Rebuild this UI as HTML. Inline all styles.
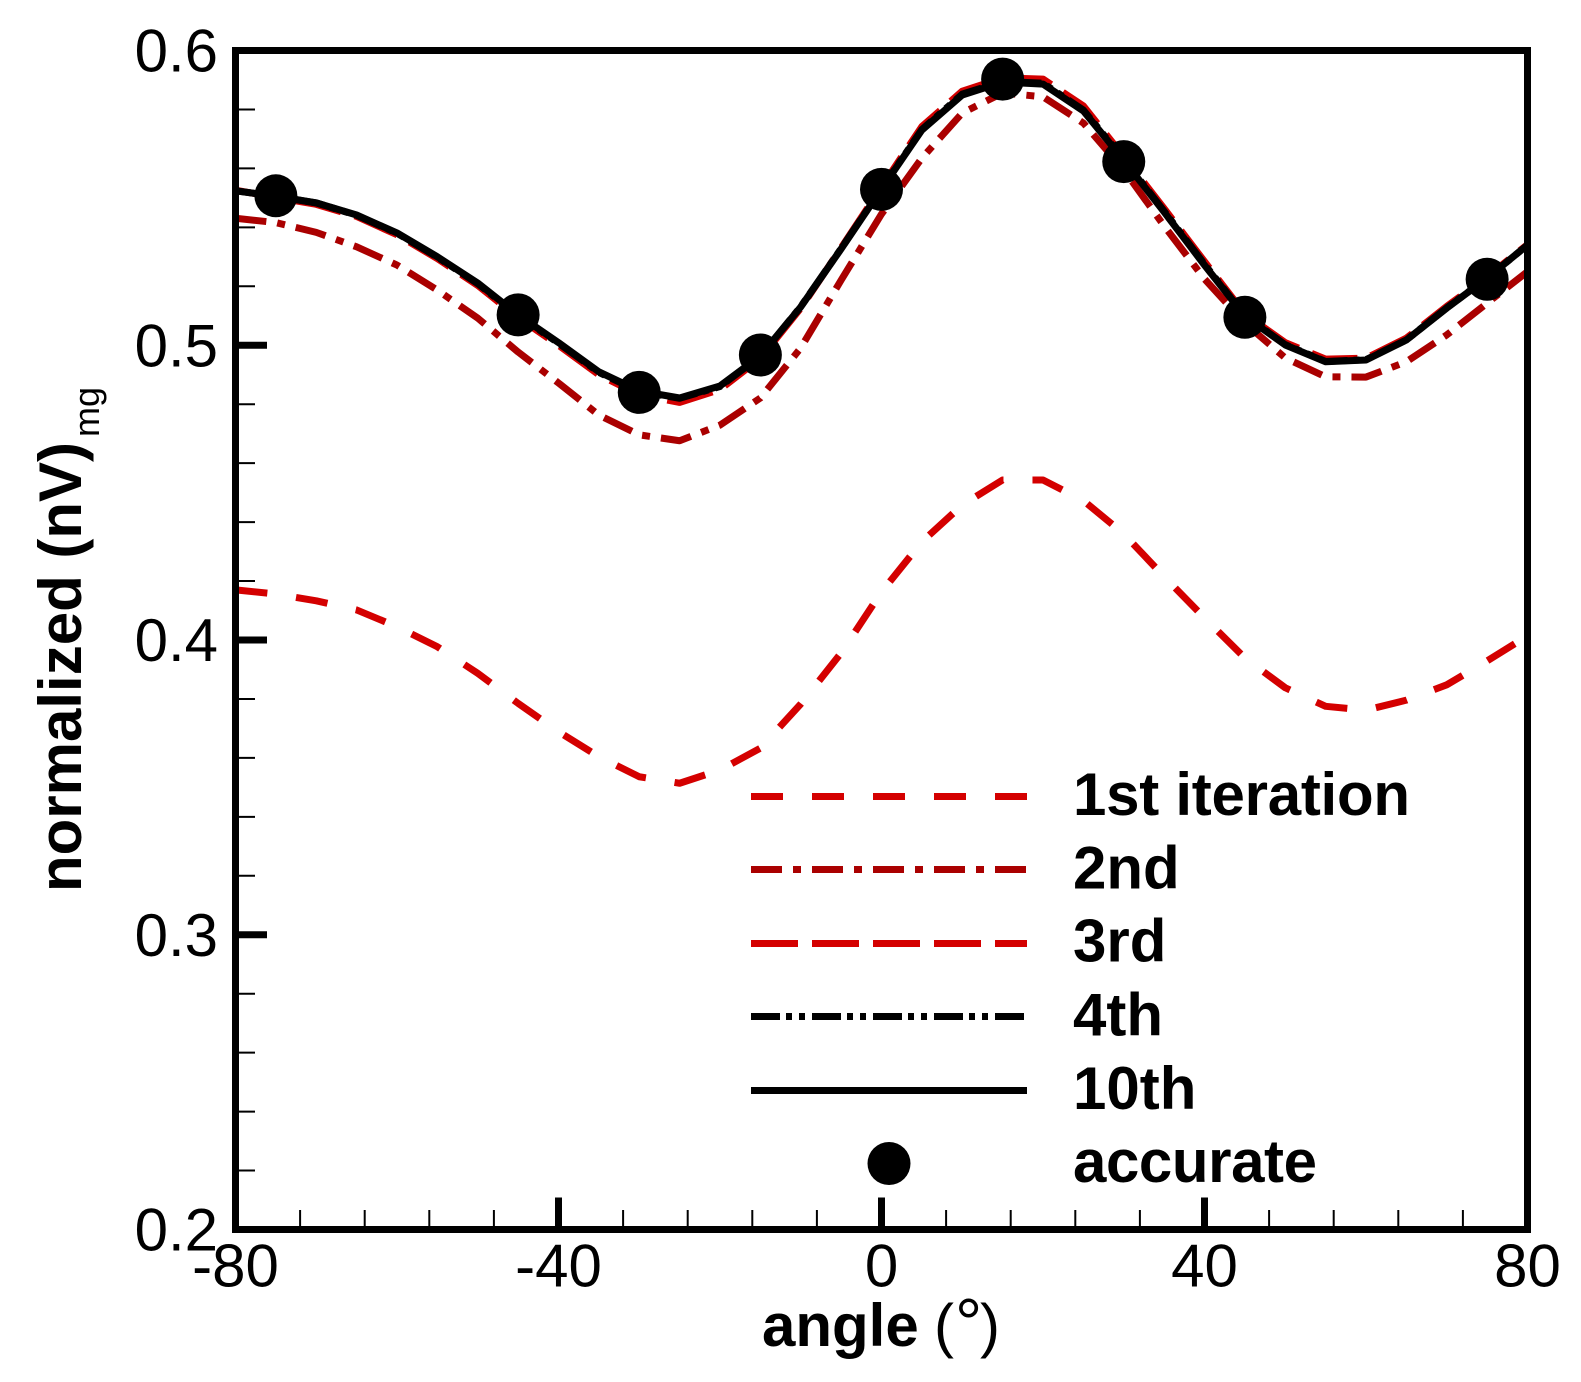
<!DOCTYPE html>
<html lang="en">
<head>
<meta charset="utf-8">
<title>normalized (nV)mg vs angle</title>
<style>
html,body{margin:0;padding:0;background:#fff;}
svg{display:block;font-family:"Liberation Sans",Arial,sans-serif;}
</style>
</head>
<body>
<svg id="chart" xmlns="http://www.w3.org/2000/svg" width="1581" height="1382" viewBox="0 0 1581 1382">
  <rect x="0" y="0" width="1581" height="1382" fill="#fff"/>
  <g id="series-layer"></g>
  <g id="marker-layer"></g>
  <g id="tick-layer"></g>
  <rect x="235.5" y="50.5" width="1292" height="1179" fill="none" stroke="#000" stroke-width="7"/>
  <g id="label-layer" font-size="60" fill="#000"></g>

  <text transform="translate(81,892) rotate(-90)" font-size="60" font-weight="700" fill="#000">normalized (nV)<tspan font-size="36" font-weight="400" dx="5" dy="18">mg</tspan></text>
  <text y="1346" font-size="60" fill="#000"><tspan x="762" font-weight="700">angle</tspan><tspan x="934" font-weight="400">(</tspan><tspan x="955" font-size="68" font-weight="400">°</tspan><tspan x="980" font-weight="400">)</tspan></text>

  <g font-size="60" font-weight="700" fill="#000">
    <g>
      <line x1="751" y1="796.5" x2="1027" y2="796.5" stroke="#d40000" stroke-width="7" stroke-dasharray="32 29"/>
      <text x="1073" y="815" textLength="337" lengthAdjust="spacing">1st iteration</text>
    </g>
    <g>
      <line x1="751" y1="869.5" x2="1027" y2="869.5" stroke="#aa0000" stroke-width="7" stroke-dasharray="31 11 8 11"/>
      <text x="1073" y="888.6">2nd</text>
    </g>
    <g>
      <line x1="751" y1="943.5" x2="1027" y2="943.5" stroke="#d40000" stroke-width="7" stroke-dasharray="47 14"/>
      <text x="1073" y="961.5">3rd</text>
    </g>
    <g>
      <line x1="751" y1="1016.5" x2="1024" y2="1016.5" stroke="#000" stroke-width="7" stroke-dasharray="29 6 6 7 6 7"/>
      <text x="1073" y="1035.5">4th</text>
    </g>
    <g>
      <line x1="751" y1="1090.5" x2="1027" y2="1090.5" stroke="#000" stroke-width="7"/>
      <text x="1073" y="1109">10th</text>
    </g>
    <g>
      <circle cx="889" cy="1163.5" r="21.5" fill="#000"/>
      <text x="1073" y="1182" textLength="244" lengthAdjust="spacing">accurate</text>
    </g>
  </g>
</svg>
<script>
const angles = [-80,-75,-70,-65,-60,-55,-50,-45,-40,-35,-30,-25,-20,-15,-10,-5,0,5,10,15,20,25,30,35,40,45,50,55,60,65,70,75,80];
const iter1st = [.4170,.4156,.4133,.4102,.4045,.3977,.3887,.3785,.3689,.3604,.3536,.3514,.3559,.3633,.3783,.3956,.4163,.4333,.4458,.4543,.4543,.4473,.4360,.4215,.4075,.3939,.3838,.3775,.3762,.3796,.3848,.3929,.4014];
const iter2nd = [.5431,.5416,.5383,.5334,.5272,.5187,.5092,.4977,.4872,.4763,.4696,.4676,.4729,.4821,.4991,.5221,.5445,.5635,.5788,.5856,.5843,.5754,.5595,.5405,.5225,.5075,.4957,.4893,.4892,.4944,.5035,.5143,.5250];
const iter3rd = [.5526,.5502,.5478,.5437,.5375,.5294,.5203,.5094,.5000,.4900,.4832,.4806,.4850,.4956,.5126,.5330,.5537,.5742,.5862,.5907,.5903,.5812,.5640,.5464,.5284,.5106,.5009,.4953,.4956,.5024,.5132,.5232,.5342];
const iter4th = [.5524,.5505,.5483,.5441,.5380,.5299,.5209,.5101,.5007,.4908,.4843,.4820,.4860,.4963,.5131,.5328,.5531,.5732,.5852,.5895,.5889,.5798,.5631,.5455,.5275,.5100,.5002,.4945,.4951,.5018,.5127,.5228,.5340];
const iter10th = [.5524,.5506,.5483,.5442,.5381,.5300,.5211,.5103,.5009,.4910,.4845,.4821,.4862,.4964,.5130,.5327,.5530,.5730,.5849,.5893,.5886,.5795,.5628,.5452,.5272,.5099,.5001,.4944,.4950,.5018,.5126,.5228,.5340];
const accurateAngles = [-75,-45,-30,-15,0,15,30,45,75];
const accurateValues = [.5507,.5103,.4840,.4967,.5529,.5903,.5623,.5095,.5224];
const xMajorTicks = [-80,-40,0,40,80];
const xMinorTicks = [-72,-64,-56,-48,-32,-24,-16,-8,8,16,24,32,48,56,64,72];
const yMajorTicks = [0.2,0.3,0.4,0.5,0.6];
const yMinorTicks = [0.22,0.24,0.26,0.28,0.32,0.34,0.36,0.38,0.42,0.44,0.46,0.48,0.52,0.54,0.56,0.58];
const xTickLabels = ["-80","-40","0","40","80"];
const yTickLabels = ["0.2","0.3","0.4","0.5","0.6"];

const NS = "http://www.w3.org/2000/svg";
const plot = {left:235.5, right:1527.5, top:50.5, bottom:1229.5, xMin:-80, xMax:80, yMin:0.2, yMax:0.6};
function xScale(a){ return plot.left + (a - plot.xMin) / (plot.xMax - plot.xMin) * (plot.right - plot.left); }
function yScale(v){ return plot.bottom - (v - plot.yMin) / (plot.yMax - plot.yMin) * (plot.bottom - plot.top); }
function make(tag, attrs, parent){
  const el = document.createElementNS(NS, tag);
  for (const k in attrs) el.setAttribute(k, attrs[k]);
  parent.appendChild(el);
  return el;
}

const seriesLayer = document.getElementById("series-layer");
function drawSeries(values, color, dash, name){
  const d = values.map((v,i) => (i ? "L" : "M") + xScale(angles[i]).toFixed(2) + " " + yScale(v).toFixed(2)).join(" ");
  const p = make("path", {d:d, fill:"none", stroke:color, "stroke-width":7, "stroke-linejoin":"round", "stroke-dasharray":dash}, seriesLayer);
  
  
}
drawSeries(iter1st, "#d40000", "32 29", "series-1st-iteration");
drawSeries(iter2nd, "#aa0000", "31 11 8 11", "series-2nd");
drawSeries(iter3rd, "#d40000", "47 14", "series-3rd");
drawSeries(iter4th, "#000", "29 6 6 7 6 7", "series-4th");
drawSeries(iter10th, "#000", "none", "series-10th");

const markerLayer = document.getElementById("marker-layer");
accurateAngles.forEach((a,i) => {
  const c = make("circle", {cx:xScale(a), cy:yScale(accurateValues[i]), r:21.5, fill:"#000"}, markerLayer);
  
  
});

const tickLayer = document.getElementById("tick-layer");
function xTick(a, len, w, name){
  const t = make("line", {x1:xScale(a), x2:xScale(a), y1:plot.bottom, y2:plot.bottom - len, stroke:"#000", "stroke-width":w}, tickLayer);
  
  
}
function yTick(v, len, w, name){
  const t = make("line", {x1:plot.left, x2:plot.left + len, y1:yScale(v), y2:yScale(v), stroke:"#000", "stroke-width":w}, tickLayer);
  
  
}
xMajorTicks.forEach(a => xTick(a, 32, 7, 'x-major-tick'));
xMinorTicks.forEach(a => xTick(a, 19.5, 2, 'x-minor-tick'));
yMajorTicks.forEach(v => yTick(v, 31.5, 7, 'y-major-tick'));
yMinorTicks.forEach(v => yTick(v, 19.5, 2, 'y-minor-tick'));

const labelLayer = document.getElementById("label-layer");
xMajorTicks.forEach((a,i) => {
  const t = make("text", {x:xScale(a), y:1286.5, "text-anchor":"middle"}, labelLayer);
  
  
  t.textContent = xTickLabels[i];
});
yMajorTicks.forEach((v,i) => {
  const t = make("text", {x:218, y:yScale(v) + 21, "text-anchor":"end"}, labelLayer);
  
  
  t.textContent = yTickLabels[i];
});
</script>
</body>
</html>
